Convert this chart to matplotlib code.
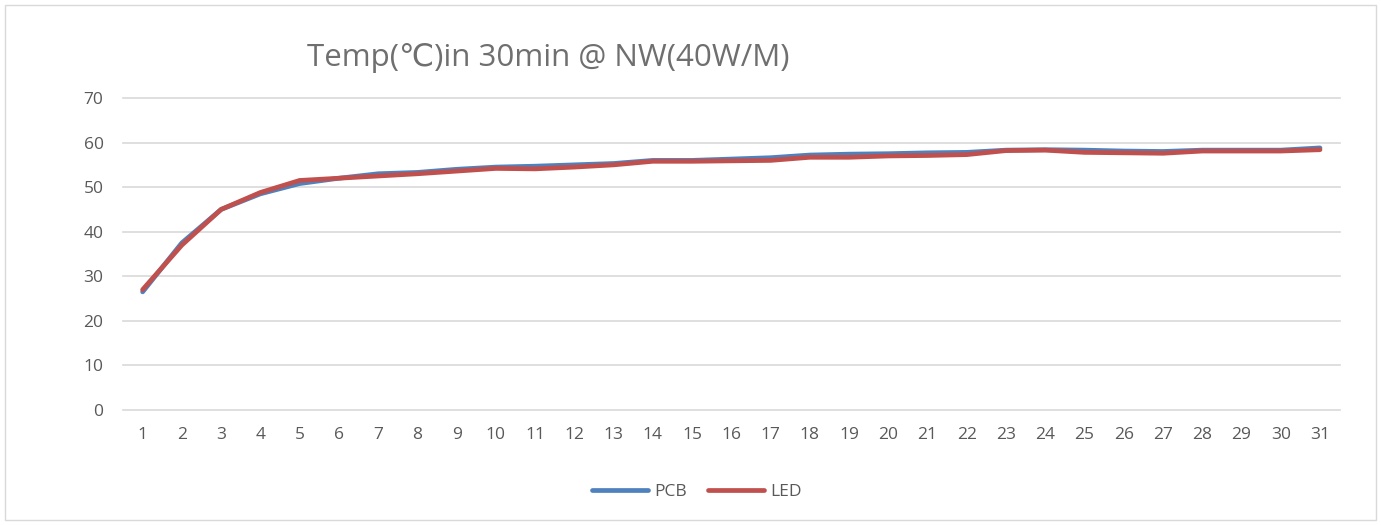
import numpy as np
import matplotlib
matplotlib.use('Agg')
import matplotlib.pyplot as plt
from matplotlib.patches import Rectangle

minutes = list(range(1, 32))
pcb = [26.5, 37.5, 45.0, 48.5, 50.8, 52.0, 53.0, 53.3, 54.0, 54.5,
       54.7, 55.0, 55.3, 56.0, 56.0, 56.3, 56.6, 57.2, 57.4, 57.5,
       57.7, 57.8, 58.3, 58.4, 58.3, 58.1, 58.0, 58.3, 58.3, 58.3, 58.8]
led = [27.0, 37.0, 45.0, 48.8, 51.5, 52.0, 52.5, 53.0, 53.6, 54.2,
       54.1, 54.5, 55.0, 55.8, 55.8, 55.9, 56.0, 56.7, 56.7, 57.0,
       57.1, 57.3, 58.2, 58.3, 57.8, 57.7, 57.6, 58.1, 58.1, 58.1, 58.4]

plt.rcParams['font.family'] = ['Open Sans', 'DejaVu Sans']

W, H = 1381, 525
fig = plt.figure(figsize=(W / 100, H / 100), dpi=100)
fig.patches.append(Rectangle((5 / W, 5 / H), 1 - 10 / W, 1 - 10 / H,
                             transform=fig.transFigure, fill=False,
                             edgecolor='#d9d9d9', linewidth=1))

ax = fig.add_axes([123 / W, 1 - 410 / H, (1339.6 - 123) / W, (410 - 98) / H])
ax.plot(minutes, pcb, color='#4F81BD', linewidth=3.4, label='PCB',
        solid_capstyle='round', solid_joinstyle='round')
ax.plot(minutes, led, color='#C0504D', linewidth=3.4, label='LED',
        solid_capstyle='round', solid_joinstyle='round')

ax.set_xlim(0.5, 31.5)
ax.set_ylim(0, 70)
ax.set_yticks(range(0, 71, 10))
ax.set_xticks(minutes)
ax.grid(axis='y', color='#d9d9d9', linewidth=1.2)
for gl in ax.get_ygridlines():
    gl.set_clip_on(False)
ax.set_axisbelow(True)
for s in ax.spines.values():
    s.set_visible(False)
ax.tick_params(length=0, colors='#595959', labelsize=12.5, pad=12)
ax.tick_params(axis='y', pad=14)

fig.text(548 / W, 1 - 58 / H, 'Temp(℃)in 30min @ NW(40W/M)', ha='center',
         va='center', fontsize=22.5, color='#6f6f6f')

fig.legend(loc='center', bbox_to_anchor=(697 / W, 1 - 492 / H), ncol=2,
           frameon=False, fontsize=12.5, labelcolor='#595959',
           handlelength=3.2, handletextpad=0.4, columnspacing=1.2)

fig.savefig('out.png', dpi=100)
